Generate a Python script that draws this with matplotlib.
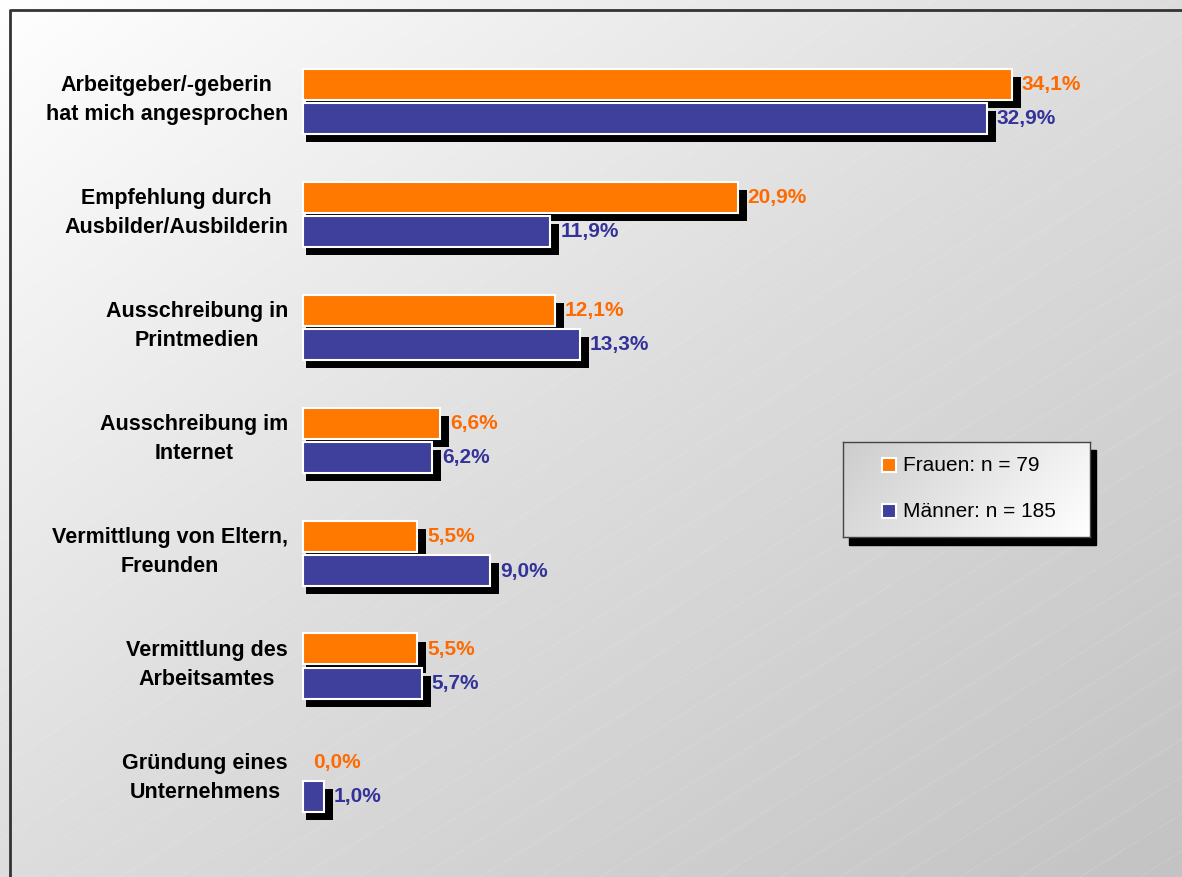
import numpy as np
import matplotlib.pyplot as plt
from matplotlib.patches import Rectangle
from matplotlib.lines import Line2D

plt.rcParams['font.family'] = ['Liberation Sans', 'DejaVu Sans']

# data
categories = [
    "Arbeitgeber/-geberin\nhat mich angesprochen",
    "Empfehlung durch\nAusbilder/Ausbilderin",
    "Ausschreibung in\nPrintmedien",
    "Ausschreibung im\nInternet",
    "Vermittlung von Eltern,\nFreunden",
    "Vermittlung des\nArbeitsamtes",
    "Gründung eines\nUnternehmens",
]
frauen = [34.1, 20.9, 12.1, 6.6, 5.5, 5.5, 0.0]
maenner = [32.9, 11.9, 13.3, 6.2, 9.0, 5.7, 1.0]
series_labels = ["Frauen: n = 79", "Männer: n = 185"]

ORANGE, ORANGE_TXT = '#FF7800', '#FF6A00'
BLUE, BLUE_TXT = '#3F3F9C', '#33339A'

W, H = 1182, 878
X0, SX = 303, 20.79   # pixel of 0 %, pixels per percent
Y0, SY = 102, 113     # pixel of first group centre, pixels per group


def px(p):
    return p / SX


def py(p):
    return p / SY


fig = plt.figure(figsize=(W / 100, H / 100), dpi=100)

# background gradient (white top-left -> grey bottom-right)
bg = fig.add_axes([0, 0, 1, 1], zorder=-1)
xx, yy = np.meshgrid(np.linspace(0, W, 400), np.linspace(0, H, 300))
t = (xx / W + yy / H) / 2
v = np.interp(t, [0, 0.25, 0.5, 1], [255, 238, 221, 195]) / 255
bg.imshow(np.dstack([v, v, v]), aspect='auto', extent=(0, W, H, 0))
# faint diagonal texture lines (rising to the right)
for c in np.arange(-1200, 2400, 60):
    bg.plot([c, c + 1500], [H, H - 1500 * 0.62], color='white', lw=0.6, alpha=0.15)
bg.set_xlim(0, W)
bg.set_ylim(H, 0)
bg.axis('off')

ax = fig.add_axes([0, 0, 1, 1])
ax.set_xlim(-px(X0), px(W - X0))
ax.set_ylim(py(H - Y0), -py(Y0))
ax.axis('off')
ax.patch.set_visible(False)

y = np.arange(len(categories))
h = py(31)
off = py(17)

for vals, col, tcol, sgn in ((frauen, ORANGE, ORANGE_TXT, -1), (maenner, BLUE, BLUE_TXT, 1)):
    vals = np.array(vals)
    yc = y + sgn * off
    # shadows
    ax.barh(yc + py(8), np.where(vals > 0, vals + px(6), 0), left=px(3), height=h,
            color='black', lw=0, zorder=2)
    bars = ax.barh(yc, vals, height=h, color=col, edgecolor='white', lw=1.5, zorder=3)
    for b, val in zip(bars, vals):
        if val <= 0:
            b.set_visible(False)
    for yi, val in zip(yc, vals):
        ax.text(val + px(10), yi, f"{val:.1f}%".replace('.', ','), color=tcol,
                fontsize=15, fontweight='bold', ha='left', va='center', zorder=4)

for yi, cat in zip(y, categories):
    ax.text(-px(15), yi - py(2), cat, ha='right', va='center', multialignment='center',
            fontsize=15.5, fontweight='bold', color='black', linespacing=1.52)

# legend with shadow
lx, ly, lw_, lh = 843, 443, 247, 95
fig.add_artist(Rectangle(((lx + 6) / W, 1 - (ly + lh + 8) / H), lw_ / W, lh / H,
                         transform=fig.transFigure, color='black', zorder=1))
lax = fig.add_axes([lx / W, 1 - (ly + lh) / H, lw_ / W, lh / H], zorder=3)
gx, gy = np.meshgrid(np.linspace(0, 1, 200), np.linspace(0, 1, 80))
g = np.interp(gx * 0.75 + gy * 0.25, [0, 1], [205, 255]) / 255
lax.imshow(np.dstack([g, g, g]), aspect='auto', extent=(0, lw_, lh, 0))
lax.set_xlim(0, lw_)
lax.set_ylim(lh, 0)
lax.set_xticks([])
lax.set_yticks([])
for s in lax.spines.values():
    s.set_color('#444444')
    s.set_linewidth(1)
for (lab, col), yy_ in zip(zip(series_labels, [ORANGE, BLUE]), [22.5, 68.5]):
    lax.plot(46, yy_, marker='s', ms=10.5, mfc=col, mec='white', mew=1.5)
    lax.text(60, yy_, lab, fontsize=15, va='center', ha='left', color='black')

# frame
fig.add_artist(Line2D([10 / W, 10 / W, 1.0], [0, 1 - 11 / H, 1 - 11 / H],
                      color='#333333', lw=2, transform=fig.transFigure))

fig.savefig('out.png', dpi=100)
